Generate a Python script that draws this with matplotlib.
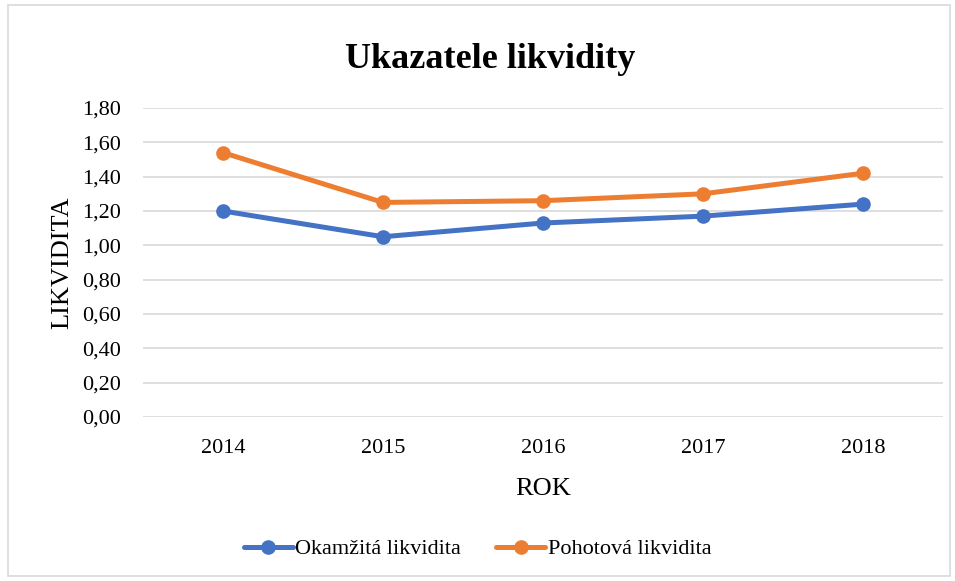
import matplotlib.pyplot as plt
from matplotlib.patches import Rectangle

roky = ['2014', '2015', '2016', '2017', '2018']
okamzita = [1.20, 1.05, 1.13, 1.17, 1.24]
pohotova = [1.54, 1.25, 1.26, 1.30, 1.42]
yticks = [0.0, 0.2, 0.4, 0.6, 0.8, 1.0, 1.2, 1.4, 1.6, 1.8]

plt.rcParams['font.family'] = ['Liberation Serif', 'DejaVu Serif']

fig = plt.figure(figsize=(9.55, 5.81), dpi=100)
ax = fig.add_axes([0.1497, 0.2823, 0.8377, 0.5318])

fig.patches.append(Rectangle((0.008, 0.008), 0.987, 0.984, transform=fig.transFigure,
                             fill=False, edgecolor='#d9d9d9', linewidth=1.2))

x = range(len(roky))
ax.plot(x, okamzita, color='#4472C4', linewidth=3.6, marker='o', markersize=9.5,
        label='Okamžitá likvidita', solid_capstyle='round')
ax.plot(x, pohotova, color='#ED7D31', linewidth=3.6, marker='o', markersize=9.5,
        label='Pohotová likvidita', solid_capstyle='round')

ax.set_xlim(-0.5, 4.5)
ax.set_ylim(0, 1.8)
ax.set_xticks(list(x))
ax.set_xticklabels(roky)
ax.set_yticks(yticks)
ax.set_yticklabels([f'{v:.2f}'.replace('.', ',') for v in yticks])
ax.tick_params(axis='both', length=0, labelsize=16)
ax.tick_params(axis='y', pad=16)
ax.tick_params(axis='x', pad=16)
ax.grid(axis='y', color='#d9d9d9', linewidth=1.2)
ax.set_axisbelow(True)
for s in ax.spines.values():
    s.set_visible(False)

ax.set_xlabel('ROK', fontsize=19, labelpad=14)
ax.set_ylabel('LIKVIDITA', fontsize=19, labelpad=6)
fig.text(0.513, 0.898, 'Ukazatele likvidity', fontsize=26, fontweight='bold',
         ha='center', va='center')

fig.legend(loc='center', bbox_to_anchor=(0.5, 0.055), ncol=2, frameon=False,
           fontsize=16, handlelength=2.2, columnspacing=1.6, handletextpad=0.1)

fig.savefig('out.png', dpi=100)
